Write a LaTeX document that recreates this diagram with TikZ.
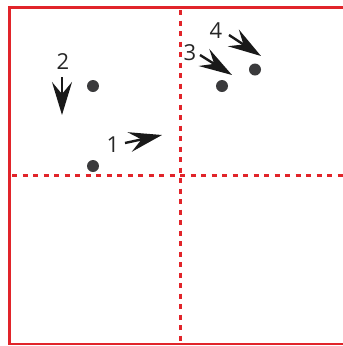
\documentclass[tikz,border=0pt]{standalone}
\usepackage{fontspec}
\setmainfont{Open Sans}
\usetikzlibrary{arrows.meta}
\definecolor{fr}{HTML}{E1242A}
\definecolor{dotc}{HTML}{3A3A3C}
\tikzset{
  frame/.style={draw=fr, line width=2.6pt},
  grid/.style={draw=fr, line width=3pt, dash pattern=on 5pt off 5.5pt},
  dotn/.style={circle, fill=dotc, inner sep=0pt, minimum size=12pt},
  arr/.style={draw=black!90, line width=2.4pt, -{Stealth[length=33pt, width=20pt, inset=12pt]}},
  lab/.style={font=\fontsize{22}{22}\selectfont, text=black!85, inner sep=0pt}
}
\begin{document}
\begin{tikzpicture}[x=1pt,y=-1pt]
\useasboundingbox (0,0) rectangle (343,346);
\draw[frame] (360,7.5) -- (9.5,7.5) -- (9.5,344) -- (360,344);
\draw[grid] (180,10) -- (180,341);
\draw[grid] (12,175) -- (343,175);
\node[dotn] (d1) at (93,166) {};
\node[dotn] (d2) at (93,86) {};
\node[dotn] (d3) at (222,86) {};
\node[dotn] (d4) at (255,69.5) {};
\coordinate (a1s) at (125,143);
\coordinate (a1e) at (162,135);
\coordinate (a2s) at (62,77);
\coordinate (a2e) at (62,115);
\coordinate (a3s) at (200,55);
\coordinate (a3e) at (232,75);
\coordinate (a4s) at (229,35);
\coordinate (a4e) at (261,56);
\draw[arr] (a1s) -- (a1e);
\draw[arr] (a2s) -- (a2e);
\draw[arr] (a3s) -- (a3e);
\draw[arr] (a4s) -- (a4e);
\node[lab] (l1) at (113,145) {1};
\node[lab] (l2) at (63,62) {2};
\node[lab] (l3) at (190,53) {3};
\node[lab] (l4) at (216,31) {4};
\end{tikzpicture}
\end{document}
